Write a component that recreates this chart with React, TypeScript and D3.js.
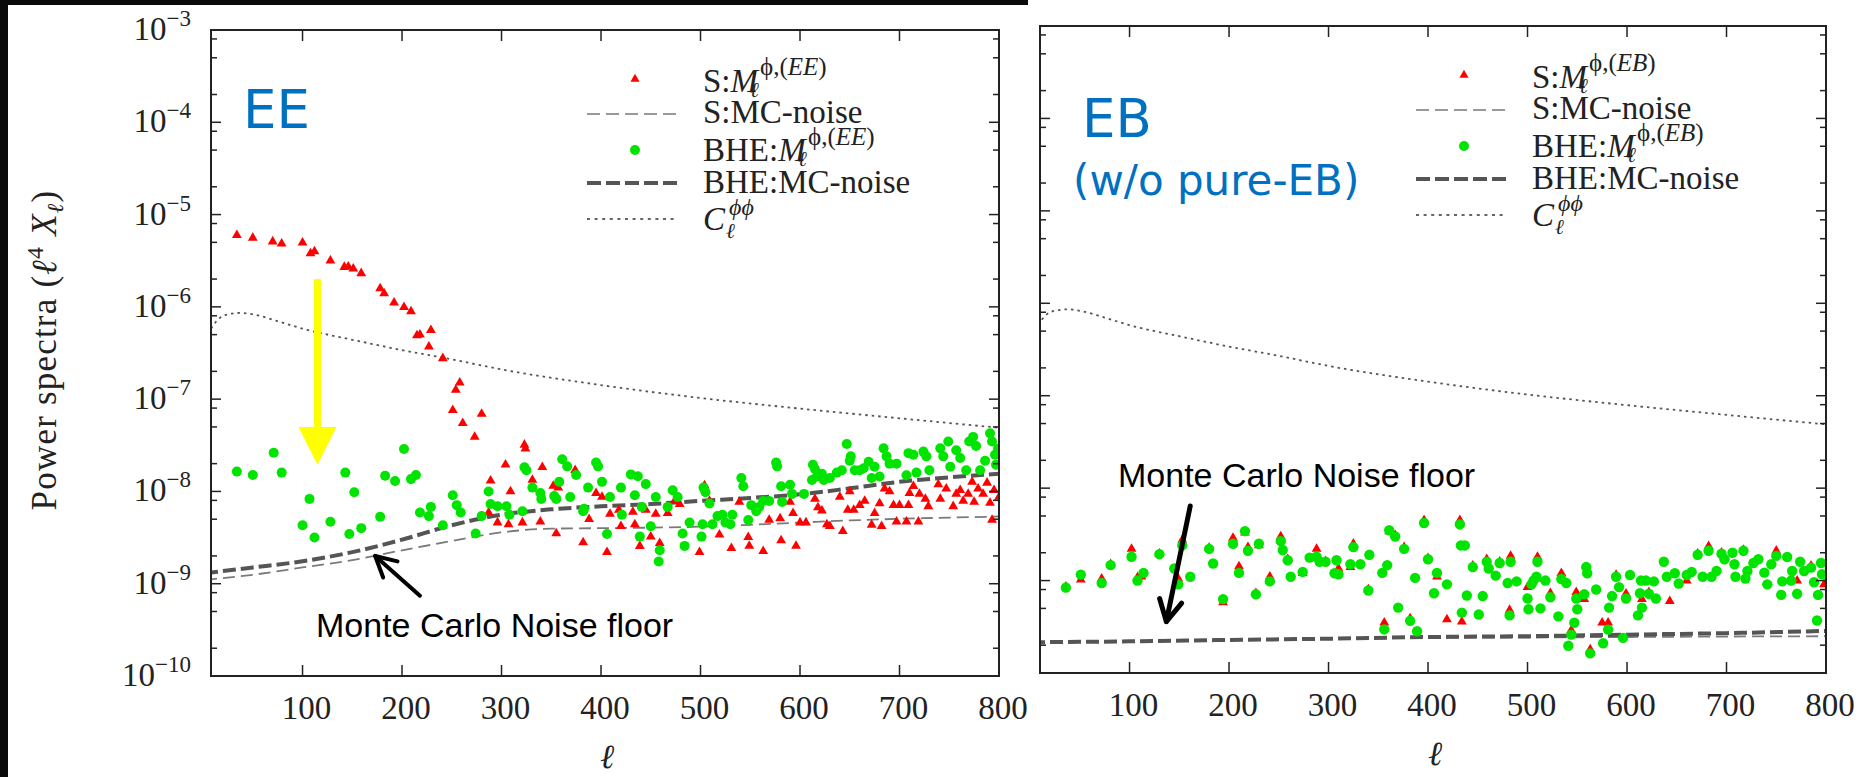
import * as d3 from 'd3';

// multipole grid + curves
const X_TICKS = [100, 200, 300, 400, 500, 600, 700, 800];
const Y_DECADES = [-10, -9, -8, -7, -6, -5, -4, -3];
const MINOR_MULT = [2, 5, 8];

const CPHI_ELL = [8, 15, 25, 38, 50, 75, 100, 150, 200, 250, 300, 400, 500, 600, 700, 800];
const CPHI = [5.8e-7, 7.3e-7, 8.3e-7, 8.6e-7, 8.3e-7, 7.0e-7, 5.8e-7, 4.4e-7, 3.4e-7, 2.7e-7, 2.1e-7, 1.42e-7, 1.03e-7, 7.9e-8, 6.2e-8, 4.9e-8];

const EE_NOISE_ELL = [2, 50, 100, 150, 200, 250, 300, 350, 400, 450, 500, 550, 600, 650, 700, 750, 800];
const EE_S_NOISE = [1.1e-9, 1.25e-9, 1.5e-9, 1.8e-9, 2.3e-9, 2.9e-9, 3.6e-9, 3.95e-9, 4.0e-9, 4.05e-9, 4.15e-9, 4.35e-9, 4.6e-9, 4.85e-9, 5.05e-9, 5.2e-9, 5.35e-9];
const EE_BHE_NOISE = [1.3e-9, 1.5e-9, 1.75e-9, 2.2e-9, 3.0e-9, 4.3e-9, 5.6e-9, 6.4e-9, 6.9e-9, 7.3e-9, 7.9e-9, 8.5e-9, 9.3e-9, 1.08e-8, 1.27e-8, 1.42e-8, 1.55e-8];

const EB_NOISE_ELL = [2, 100, 200, 300, 400, 500, 600, 700, 800];
const EB_S_NOISE = [2.15e-10, 2.2e-10, 2.27e-10, 2.33e-10, 2.4e-10, 2.42e-10, 2.45e-10, 2.48e-10, 2.5e-10];
const EB_BHE_NOISE = [2.15e-10, 2.2e-10, 2.28e-10, 2.35e-10, 2.45e-10, 2.5e-10, 2.6e-10, 2.7e-10, 2.85e-10];

type Pt = [number, number];

const EE_S: Pt[] = [
  [34, 5.97e-6], [50, 5.6e-6], [70, 5.1e-6], [79, 4.85e-6], [100, 4.97e-6], [108, 3.8e-6], [112, 3.98e-6],
  [128, 3.16e-6], [142, 2.7e-6], [146, 2.73e-6], [151, 2.6e-6], [159, 2.31e-6], [178, 1.58e-6], [182, 1.4e-6],
  [192, 1.11e-6], [202, 9.9e-7], [209, 8.9e-7], [215, 4.9e-7], [218, 5.0e-7], [229, 5.6e-7], [227, 3.7e-7],
  [241, 2.77e-7], [258, 1.51e-7], [254, 1.26e-7], [251, 7.6e-8], [261, 5.5e-8], [280, 6.9e-8], [273, 3.9e-8],
  [323, 3.2e-8], [324, 2.9e-8], [304, 1.95e-8], [341, 1.83e-8], [289, 1.31e-8], [331, 1.33e-8], [309, 1.0e-8],
  [352, 1.15e-8], [357, 1.1e-8], [374, 1.7e-8], [395, 9.6e-9], [401, 8.7e-9], [287, 5.9e-9], [296, 4.6e-9],
  [307, 4.4e-9], [321, 4.6e-9], [339, 4.7e-9], [355, 3.5e-9], [388, 5.0e-9], [409, 5.7e-9], [382, 2.8e-9],
  [406, 2.2e-9], [418, 6.3e-9], [420, 4.2e-9], [432, 6.0e-9], [434, 4.4e-9], [439, 2.56e-9], [445, 6.3e-9],
  [450, 3.24e-9], [455, 5.7e-9], [459, 2.75e-9], [467, 5.8e-9], [474, 7.9e-9], [479, 7.3e-9], [499, 2.2e-9],
  [504, 1.16e-8], [509, 7.9e-9], [519, 3.4e-9], [531, 2.43e-9], [539, 7.7e-9], [548, 3.2e-9], [549, 2.57e-9],
  [563, 2.25e-9], [569, 4.9e-9], [580, 5.1e-9], [581, 2.95e-9], [590, 7.7e-9], [593, 5.8e-9], [596, 2.57e-9],
  [600, 4.6e-9], [606, 4.6e-9], [615, 8.3e-9], [618, 6.7e-9], [622, 6.2e-9], [627, 4.4e-9], [630, 4.2e-9],
  [640, 8.7e-9], [643, 3.7e-9], [648, 6.3e-9], [650, 1.0e-8], [654, 6.3e-9], [660, 7.1e-9], [665, 7.9e-9],
  [672, 4.35e-9], [675, 5.8e-9], [680, 7.4e-9], [682, 4.2e-9], [685, 1.07e-8], [690, 1.0e-8], [694, 7.1e-9],
  [697, 4.7e-9], [700, 7.1e-9], [707, 4.7e-9], [709, 7.1e-9], [710, 9.6e-9], [714, 1.14e-8], [719, 4.7e-9],
  [720, 9.4e-9], [726, 8.3e-9], [729, 6.9e-9], [739, 1.19e-8], [741, 8.3e-9], [747, 1.07e-8], [754, 6.9e-9],
  [757, 9.4e-9], [761, 1.03e-8], [764, 7.9e-9], [769, 9.4e-9], [773, 1.27e-8], [775, 7.7e-9], [779, 1.07e-8],
  [784, 9.4e-9], [788, 1.24e-8], [791, 7.5e-9], [793, 4.9e-9], [795, 1.03e-8], [800, 8.7e-9],
];

const EE_BHE: Pt[] = [
  [34, 1.64e-8], [50, 1.51e-8], [71, 2.63e-8], [79, 1.6e-8], [107, 8.3e-9], [100, 4.3e-9], [112, 3.17e-9],
  [128, 4.7e-9], [143, 1.6e-8], [152, 9.8e-9], [147, 3.45e-9], [159, 4.0e-9], [178, 5.3e-9], [183, 1.48e-8],
  [193, 1.3e-8], [202, 2.88e-8], [209, 1.36e-8], [214, 1.51e-8], [218, 5.9e-9], [227, 5.4e-9], [229, 6.8e-9],
  [241, 4.3e-9], [251, 9.1e-9], [255, 7.1e-9], [259, 5.9e-9], [274, 3.5e-9], [280, 5.4e-9], [287, 1.0e-8],
  [289, 7.3e-9], [296, 6.9e-9], [305, 6.9e-9], [308, 5.6e-9], [321, 6.1e-9], [323, 1.83e-8], [325, 1.7e-8],
  [331, 1.1e-8], [339, 9.6e-9], [340, 8.3e-9], [353, 8.9e-9], [355, 8.3e-9], [358, 1.27e-8], [361, 2.23e-8],
  [366, 1.87e-8], [369, 8.7e-9], [375, 1.51e-8], [382, 6.1e-9], [387, 1.1e-8], [383, 6.5e-9], [395, 2.06e-8],
  [397, 1.87e-8], [401, 1.27e-8], [406, 3.45e-9], [409, 8.7e-9], [420, 1.1e-8], [421, 5.6e-9], [430, 1.53e-8],
  [434, 9.1e-9], [437, 1.46e-8], [439, 3.24e-9], [441, 6.8e-9], [445, 1.2e-8], [450, 4.2e-9], [455, 8.7e-9],
  [459, 2.3e-9], [458, 1.74e-9], [467, 6.8e-9], [472, 1.03e-8], [477, 8.7e-9], [482, 3.5e-9], [484, 2.57e-9],
  [489, 4.6e-9], [501, 3.24e-9], [502, 4.4e-9], [503, 1.1e-8], [505, 9.8e-9], [509, 7.4e-9], [512, 4.4e-9],
  [517, 5.4e-9], [522, 5.6e-9], [525, 4.6e-9], [532, 5.6e-9], [530, 4.4e-9], [541, 1.4e-8], [543, 1.14e-8],
  [548, 4.9e-9], [551, 7.1e-9], [556, 6.1e-9], [559, 6.8e-9], [563, 7.9e-9], [569, 7.9e-9], [576, 2.06e-8],
  [577, 1.87e-8], [581, 1.14e-8], [582, 7.7e-9], [590, 1.18e-8], [592, 9.4e-9], [604, 9.4e-9], [613, 1.95e-8],
  [615, 1.75e-8], [612, 1.33e-8], [617, 1.45e-8], [622, 1.55e-8], [624, 1.33e-8], [630, 1.4e-8], [637, 1.6e-8],
  [642, 1.7e-8], [647, 3.27e-8], [651, 2.4e-8], [650, 2.15e-8], [655, 1.7e-8], [660, 1.7e-8], [664, 1.78e-8],
  [669, 2.1e-8], [672, 1.4e-8], [675, 1.85e-8], [680, 1.45e-8], [684, 2.93e-8], [687, 2.4e-8], [690, 2.0e-8],
  [697, 2.0e-8], [707, 1.5e-8], [709, 2.6e-8], [714, 2.5e-8], [717, 1.6e-8], [724, 2.7e-8], [727, 2.4e-8],
  [730, 1.7e-8], [741, 2.93e-8], [744, 2.4e-8], [749, 3.47e-8], [751, 1.85e-8], [757, 2.8e-8], [761, 2.3e-8],
  [767, 1.7e-8], [770, 3.47e-8], [774, 3.9e-8], [777, 3.1e-8], [781, 1.7e-8], [786, 2.15e-8], [791, 4.26e-8],
  [793, 3.47e-8], [796, 2.5e-8], [799, 2.9e-8], [797, 1.95e-8],
];

const EB_BHE: Pt[] = [
  [36, 8.4e-10], [51, 1.16e-9], [72, 9.4e-10], [81, 1.47e-9], [102, 1.81e-9], [108, 1.0e-9], [114, 1.21e-9],
  [130, 1.93e-9], [145, 1.35e-9], [149, 9.1e-10], [153, 2.4e-9], [161, 1.1e-9], [180, 2.2e-9], [184, 1.53e-9],
  [194, 6.3e-10], [204, 2.5e-9], [210, 1.21e-9], [216, 3.43e-9], [219, 2.1e-9], [227, 7.1e-10], [230, 2.5e-9],
  [241, 9.8e-10], [252, 2.67e-9], [254, 2.14e-9], [259, 1.66e-9], [262, 1.1e-9], [274, 1.24e-9], [281, 1.77e-9],
  [288, 1.81e-9], [291, 1.6e-9], [297, 1.6e-9], [308, 1.66e-9], [306, 1.2e-9], [310, 1.17e-9], [322, 1.5e-9],
  [325, 2.3e-9], [332, 1.5e-9], [341, 1.9e-9], [340, 7.8e-10], [354, 1.21e-9], [356, 2.96e-10], [359, 1.47e-9],
  [361, 3.5e-9], [367, 3.0e-9], [370, 5.1e-10], [376, 2.2e-9], [382, 3.67e-10], [389, 2.83e-10], [387, 1.07e-9],
  [396, 4.2e-9], [400, 1.7e-9], [406, 7.3e-10], [409, 1.21e-9], [419, 9.1e-10], [432, 4.05e-9], [433, 2.4e-9],
  [437, 2.4e-9], [434, 4.5e-10], [439, 6.9e-10], [445, 1.4e-9], [451, 4.3e-10], [455, 6.8e-10], [459, 1.6e-9],
  [461, 1.35e-9], [468, 1.13e-9], [472, 1.55e-9], [480, 9.4e-10], [483, 1.6e-9], [482, 4.2e-10], [489, 9.8e-10],
  [500, 6.4e-10], [501, 4.9e-10], [504, 9.1e-10], [506, 1.0e-9], [510, 1.6e-9], [509, 1.1e-9], [513, 5.0e-10],
  [518, 1.0e-9], [523, 6.6e-10], [531, 4.1e-10], [534, 1.04e-9], [539, 9.4e-10], [541, 1.97e-10], [544, 2.6e-10],
  [547, 3.5e-10], [549, 6.4e-10], [550, 4.9e-10], [559, 1.4e-9], [560, 1.2e-9], [557, 7.1e-10], [563, 1.63e-10],
  [569, 8.0e-10], [576, 2.1e-10], [581, 2.95e-10], [582, 5.1e-10], [585, 6.8e-10], [589, 1.1e-9], [592, 8.5e-10],
  [596, 2.4e-10], [599, 6.4e-10], [603, 1.15e-9], [611, 4.2e-10], [613, 7.3e-10], [615, 5.1e-10], [614, 1.0e-9],
  [619, 1.0e-9], [622, 7.2e-10], [627, 9.8e-10], [629, 6.4e-10], [637, 1.6e-9], [640, 1.1e-9], [648, 1.2e-9],
  [652, 9.3e-10], [660, 1.15e-9], [665, 1.24e-9], [671, 1.9e-9], [676, 1.1e-9], [682, 2.1e-9], [685, 1.1e-9],
  [690, 1.27e-9], [695, 1.95e-9], [698, 1.7e-9], [706, 2.0e-9], [709, 1.1e-9], [708, 1.5e-9], [717, 2.1e-9],
  [719, 1.05e-9], [721, 1.27e-9], [727, 1.55e-9], [732, 1.7e-9], [738, 1.22e-9], [741, 9.1e-10], [745, 1.5e-9],
  [750, 1.85e-9], [755, 7.0e-10], [756, 9.8e-10], [761, 1.8e-9], [765, 1.0e-9], [766, 1.27e-9], [771, 7.2e-10],
  [774, 1.6e-9], [778, 1.27e-9], [785, 1.38e-9], [788, 9.6e-10], [791, 3.7e-10], [792, 7.0e-10], [795, 1.55e-9],
  [796, 1.17e-9],
];

const EB_S: Pt[] = [
  [36, 8.6e-10], [51, 1.02e-9], [72, 1.05e-9], [81, 1.5e-9], [102, 2.2e-9], [108, 1.08e-9], [112, 1.1e-9],
  [130, 1.95e-9], [149, 1.05e-9], [153, 2.75e-9], [180, 2.25e-9], [194, 5.8e-10], [204, 2.9e-9], [210, 1.42e-9],
  [216, 3.3e-9], [219, 2.3e-9], [227, 7.3e-10], [230, 2.4e-9], [241, 1.1e-9], [252, 3.0e-9], [259, 1.7e-9],
  [274, 1.2e-9], [288, 2.2e-9], [297, 1.62e-9], [310, 1.35e-9], [322, 1.4e-9], [325, 2.5e-9], [340, 8.0e-10],
  [356, 3.5e-10], [361, 3.4e-9], [367, 3.1e-9], [376, 2.3e-9], [382, 3.9e-10], [396, 4.5e-9], [400, 1.75e-9],
  [409, 1.1e-9], [419, 3.8e-10], [432, 4.5e-9], [434, 3.6e-10], [445, 1.45e-9], [459, 1.7e-9], [472, 1.6e-9],
  [483, 1.85e-9], [482, 4.8e-10], [500, 8.5e-10], [510, 1.8e-9], [509, 1.05e-9], [523, 7.3e-10], [534, 1.2e-9],
  [544, 2.9e-10], [549, 7.5e-10], [557, 6.3e-10], [563, 1.8e-10], [575, 3.5e-10], [581, 3.5e-10], [589, 1.15e-9],
  [599, 7.2e-10], [615, 6.3e-10], [622, 7.5e-10], [643, 6.0e-10], [660, 1.0e-9], [671, 1.95e-9], [682, 2.35e-9],
  [695, 2.0e-9], [717, 2.15e-9], [750, 2.1e-9], [771, 1.0e-9], [785, 1.45e-9], [798, 9.1e-10],
];

const W = 1861;
const H = 777;
const SERIF = '"Liberation Serif", "DejaVu Serif", serif';
const ARIAL = '"Liberation Sans", Arial, sans-serif';
const BLUE_FONT = '"DejaVu Sans", Verdana, sans-serif';
const BLUE = '#0070c0';
const RED = '#ff0000';
const GREEN = '#00e400';

type Box = { left: number; right: number; top: number; bottom: number };
const LEFT_BOX: Box = { left: 211, right: 999, top: 30, bottom: 676 };
const RIGHT_BOX: Box = { left: 1040, right: 1826, top: 26, bottom: 673 };

const makeScales = (box: Box, xMin: number) => ({
  x: d3.scaleLinear().domain([xMin, 800]).range([box.left, box.right]),
  y: d3.scaleLog().domain([1e-10, 1e-3]).range([box.bottom, box.top]),
});

const Arrow = ({ tip, tail, width, head }: { tip: number[]; tail: number[]; width: number; head: number }) => {
  const dx = tail[0] - tip[0];
  const dy = tail[1] - tip[1];
  const len = Math.hypot(dx, dy);
  const ux = dx / len;
  const uy = dy / len;
  const a = (28 * Math.PI) / 180;
  const arm = (s: number) => [
    tip[0] + head * (ux * Math.cos(a) - uy * s * Math.sin(a)),
    tip[1] + head * (ux * s * Math.sin(a) + uy * Math.cos(a)),
  ];
  const p1 = arm(1);
  const p2 = arm(-1);
  return (
    <g stroke="#000" strokeWidth={width} strokeLinecap="round" strokeLinejoin="round" fill="none">
      <line x1={tip[0]} y1={tip[1]} x2={tail[0]} y2={tail[1]} />
      <polyline points={`${p1[0]},${p1[1]} ${tip[0]},${tip[1]} ${p2[0]},${p2[1]}`} />
    </g>
  );
};

type PanelProps = {
  box: Box;
  xMin: number;
  tag: string;
  yLabels: boolean;
  sPts: Pt[];
  bPts: Pt[];
  noiseEll: number[];
  sNoise: number[];
  bNoise: number[];
  r: number;
};

const Panel = ({ box, xMin, tag, yLabels, sPts, bPts, noiseEll, sNoise, bNoise, r }: PanelProps) => {
  const { x, y } = makeScales(box, xMin);
  const path = (ells: number[], vals: number[]) =>
    d3
      .line<number>()
      .x((_, i) => x(ells[i]))
      .y((d) => y(d))
      .curve(d3.curveMonotoneX)(vals) || '';
  const tri = d3.symbol().type(d3.symbolTriangle).size(42)() || '';
  const legTri = d3.symbol().type(d3.symbolTriangle).size(36)() || '';
  const clip = `clip-${tag}`;
  const minors: number[] = [];
  Y_DECADES.slice(0, -1).forEach((d) => MINOR_MULT.forEach((m) => minors.push(m * Math.pow(10, d))));

  const lx = box.left + 492;
  const mx = box.left + 424;
  const t = box.top;

  return (
    <g>
      <defs>
        <clipPath id={clip}>
          <rect x={box.left} y={box.top} width={box.right - box.left} height={box.bottom - box.top} />
        </clipPath>
      </defs>

      <g clipPath={`url(#${clip})`}>
        <path d={path(CPHI_ELL, CPHI)} fill="none" stroke="#555" strokeWidth={1.8} strokeDasharray="2.5,4" />
        <path d={path(noiseEll, sNoise)} fill="none" stroke="#7a7a7a" strokeWidth={1.8} strokeDasharray="12,6" />
        <path d={path(noiseEll, bNoise)} fill="none" stroke="#555" strokeWidth={4} strokeDasharray="13,5" />
        {sPts.map((p, i) => (
          <path key={`s${i}`} d={tri} transform={`translate(${x(p[0])},${y(p[1])})`} fill={RED} />
        ))}
        {bPts.map((p, i) => (
          <circle key={`b${i}`} cx={x(p[0])} cy={y(p[1])} r={r} fill={GREEN} />
        ))}
      </g>

      {/* ticks */}
      <g stroke="#222" strokeWidth={1.5}>
        {Y_DECADES.map((d) => (
          <g key={`yt${d}`}>
            <line x1={box.left} x2={box.left + 10} y1={y(Math.pow(10, d))} y2={y(Math.pow(10, d))} />
            <line x1={box.right} x2={box.right - 10} y1={y(Math.pow(10, d))} y2={y(Math.pow(10, d))} />
          </g>
        ))}
        {minors.map((v, i) => (
          <g key={`ym${i}`}>
            <line x1={box.left} x2={box.left + 6} y1={y(v)} y2={y(v)} />
            <line x1={box.right} x2={box.right - 6} y1={y(v)} y2={y(v)} />
          </g>
        ))}
        {X_TICKS.map((v) => (
          <g key={`xt${v}`}>
            <line x1={x(v)} x2={x(v)} y1={box.bottom} y2={box.bottom - 11} />
            <line x1={x(v)} x2={x(v)} y1={box.top} y2={box.top + 11} />
          </g>
        ))}
      </g>
      <rect
        x={box.left}
        y={box.top}
        width={box.right - box.left}
        height={box.bottom - box.top}
        fill="none"
        stroke="#222"
        strokeWidth={2}
      />

      {/* tick labels */}
      <g fontFamily={SERIF} fill="#222">
        {X_TICKS.map((v) => (
          <text key={`xl${v}`} x={x(v) + 4} y={box.bottom + 43} fontSize={33} textAnchor="middle">
            {v}
          </text>
        ))}
        {yLabels &&
          Y_DECADES.map((d) => (
            <text key={`yl${d}`} x={box.left - 20} y={y(Math.pow(10, d)) + 10} fontSize={33} textAnchor="end">
              10
              <tspan dy={-14} fontSize={23}>
                {`\u2212${-d}`}
              </tspan>
            </text>
          ))}
        <text x={(box.left + box.right) / 2 + 2} y={box.bottom + 92} fontSize={34} fontStyle="italic" textAnchor="middle">
          ℓ
        </text>
      </g>

      {/* legend */}
      <g fontFamily={SERIF} fill="#222">
        <path d={legTri} transform={`translate(${mx},${t + 49})`} fill={RED} />
        <line x1={box.left + 376} x2={box.left + 466} y1={t + 84} y2={t + 84} stroke="#999" strokeWidth={1.8} strokeDasharray="13,6" />
        <circle cx={mx} cy={t + 120} r={5} fill={GREEN} />
        <line x1={box.left + 376} x2={box.left + 466} y1={t + 153} y2={t + 153} stroke="#555" strokeWidth={4} strokeDasharray="14,5" />
        <line x1={box.left + 376} x2={box.left + 466} y1={t + 189} y2={t + 189} stroke="#333" strokeWidth={1.6} strokeDasharray="3,4.6" />

        <text x={lx} y={t + 62} fontSize={33}>
          S:<tspan fontStyle="italic">M</tspan>
        </text>
        <text x={lx + 57} y={t + 45} fontSize={25}>
          ϕ,(<tspan fontStyle="italic">{tag}</tspan>)
        </text>
        <text x={lx + 47} y={t + 67} fontSize={21} fontStyle="italic">
          ℓ
        </text>

        <text x={lx} y={t + 93} fontSize={33}>
          S:MC-noise
        </text>

        <text x={lx} y={t + 131} fontSize={33}>
          BHE:<tspan fontStyle="italic">M</tspan>
        </text>
        <text x={lx + 105} y={t + 115} fontSize={25}>
          ϕ,(<tspan fontStyle="italic">{tag}</tspan>)
        </text>
        <text x={lx + 95} y={t + 136} fontSize={21} fontStyle="italic">
          ℓ
        </text>

        <text x={lx} y={t + 163} fontSize={33}>
          BHE:MC-noise
        </text>

        <text x={lx} y={t + 200} fontSize={33} fontStyle="italic">
          C
        </text>
        <text x={lx + 26} y={t + 185} fontSize={24} fontStyle="italic">
          ϕϕ
        </text>
        <text x={lx + 23} y={t + 208} fontSize={21} fontStyle="italic">
          ℓ
        </text>
      </g>
    </g>
  );
};

const App = () => {
  const L = makeScales(LEFT_BOX, 8);
  const R = makeScales(RIGHT_BOX, 10);

  const yx = L.x(115);
  const yTop = L.y(2.0e-6);
  const yBase = L.y(5.0e-8);
  const yTip = L.y(1.94e-8);

  return (
    <svg
      width={W}
      height={H}
      viewBox={`0 0 ${W} ${H}`}
      style={{ position: 'absolute', left: 0, top: 0, background: '#fff' }}
    >
      <rect x={0} y={0} width={W} height={H} fill="#fff" />
      <rect x={0} y={0} width={1028} height={5} fill="#0a0a0a" />
      <rect x={0} y={0} width={8} height={H} fill="#0a0a0a" />

      <Panel
        box={LEFT_BOX}
        xMin={8}
        tag="EE"
        yLabels
        sPts={EE_S}
        bPts={EE_BHE}
        noiseEll={EE_NOISE_ELL}
        sNoise={EE_S_NOISE}
        bNoise={EE_BHE_NOISE}
        r={5}
      />
      <Panel
        box={RIGHT_BOX}
        xMin={10}
        tag="EB"
        yLabels={false}
        sPts={EB_S}
        bPts={EB_BHE}
        noiseEll={EB_NOISE_ELL}
        sNoise={EB_S_NOISE}
        bNoise={EB_BHE_NOISE}
        r={5.2}
      />

      {/* y title */}
      <text
        transform="translate(56,350) rotate(-90)"
        textAnchor="middle"
        fontFamily={SERIF}
        fontSize={35}
        letterSpacing={1.2}
        fill="#222"
      >
        Power spectra (<tspan fontStyle="italic">ℓ</tspan>
        <tspan dy={-13} fontSize={24}>4</tspan>
        <tspan dy={13}> </tspan>
        <tspan fontStyle="italic">X</tspan>
        <tspan dy={7} fontSize={23} fontStyle="italic">ℓ</tspan>
        <tspan dy={-7}>)</tspan>
      </text>

      {/* yellow arrow */}
      <rect x={yx - 3.5} y={yTop} width={7} height={yBase - yTop} fill="#ffff00" />
      <path d={`M${yx - 19},${yBase} L${yx + 19},${yBase} L${yx},${yTip} Z`} fill="#ffff00" />

      {/* annotations */}
      <text x={243} y={128} fontFamily={BLUE_FONT} fontSize={53} fill={BLUE}>
        EE
      </text>
      <text x={1082} y={137} fontFamily={BLUE_FONT} fontSize={53} fill={BLUE}>
        EB
      </text>
      <text x={1073} y={195} fontFamily={BLUE_FONT} fontSize={42} fill={BLUE}>
        (w/o pure-EB)
      </text>

      <text x={316} y={637} fontFamily={ARIAL} fontSize={34} fill="#000">
        Monte Carlo Noise floor
      </text>
      <text x={1118} y={487} fontFamily={ARIAL} fontSize={34} fill="#000">
        Monte Carlo Noise floor
      </text>

      <Arrow tip={[L.x(173), L.y(2.0e-9)]} tail={[L.x(218), L.y(7.4e-10)]} width={4} head={23} />
      <Arrow tip={[R.x(137), R.y(3.6e-10)]} tail={[R.x(161), R.y(6.4e-9)]} width={5} head={24} />
    </svg>
  );
};

export default App;
